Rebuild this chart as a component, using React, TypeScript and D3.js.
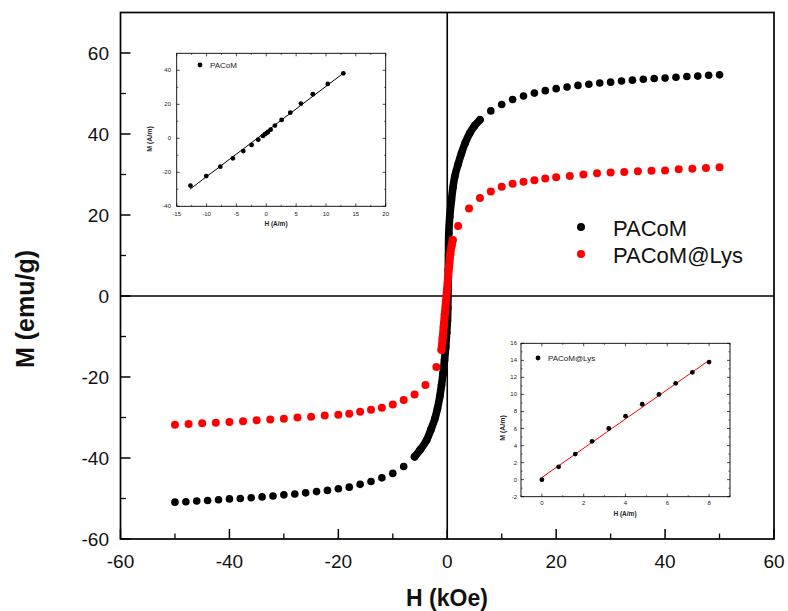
import React from "react";
import * as d3 from "d3";

// ---------- Main chart data (H in kOe, M in emu/g) ----------
const pacomNegH = [-50, -48, -46, -44, -42, -40, -38, -36, -34, -32, -30, -28, -26, -24, -22, -20, -18, -16, -14, -12, -10, -8];
const pacomNegM = [-50.9, -50.8, -50.6, -50.5, -50.3, -50.1, -50.0, -49.8, -49.6, -49.4, -49.1, -48.9, -48.6, -48.3, -48.0, -47.6, -47.2, -46.5, -45.8, -44.9, -43.8, -42.1];
const pacomDenseH = [-6, -5, -3.8, -3, -2.3, -1.8, -1.38, -1.05, -0.77, -0.5, -0.28, -0.1, 0.04, 0.1, 0.13, 0.16, 0.19, 0.23, 0.28, 0.46, 0.77, 1.05, 1.38, 2, 2.6, 3.3, 4.13, 5, 6];
const pacomDenseM = [-39.7, -38, -35.6, -33, -30.4, -27.8, -24.9, -22, -19.1, -15.8, -12.5, -9, -5.9, -3, 0, 3, 6.5, 10, 15.5, 19.6, 23.7, 26.8, 29.5, 32.6, 35.2, 37.8, 40.2, 42, 43.5];
const pacomPosH = [8, 10, 12, 14, 16, 18, 20, 22, 24, 26, 28, 30, 32, 34, 36, 38, 40, 42, 44, 46, 48, 50];
const pacomPosM = [45.7, 47.3, 48.5, 49.4, 50.1, 50.7, 51.2, 51.6, 52.0, 52.3, 52.6, 52.8, 53.1, 53.3, 53.5, 53.7, 53.8, 54.0, 54.2, 54.3, 54.5, 54.6];

const lysNegH = [-50, -47.5, -45, -42.5, -40, -37.5, -35, -32.5, -30, -27.5, -25, -22.5, -20, -18, -16, -14, -12, -10, -8, -6, -4, -2];
const lysNegM = [-31.8, -31.6, -31.4, -31.3, -31.1, -30.9, -30.7, -30.5, -30.3, -30.0, -29.8, -29.5, -29.3, -29.1, -28.6, -28.1, -27.6, -26.8, -25.7, -24.3, -22.0, -17.5];
const lysDenseH = [-1.06, -0.85, -0.65, -0.45, -0.25, -0.05, 0.15, 0.35, 0.55, 0.8, 1.0];
const lysDenseM = [-13.3, -10.5, -7.5, -4.5, -1.5, 1.5, 4.5, 7.5, 10.3, 12.5, 13.8];
const lysPosH = [2, 4, 6, 8, 10, 12, 14, 16, 18, 20, 22.5, 25, 27.5, 30, 32.5, 35, 37.5, 40, 42.5, 45, 47.5, 50];
const lysPosM = [17.3, 21.6, 24.2, 25.8, 27.0, 27.7, 28.2, 28.6, 29.0, 29.3, 29.6, 30.0, 30.3, 30.5, 30.6, 30.8, 30.9, 31.0, 31.3, 31.4, 31.6, 31.8];

const mainXTicks = [-60, -40, -20, 0, 20, 40, 60];
const mainYTicks = [-60, -40, -20, 0, 20, 40, 60];
const mainMinorTicks = [-50, -30, -10, 10, 30, 50];
const legendLabels = ["PACoM", "PACoM@Lys"];

// ---------- Inset 1 (PACoM) ----------
const in1H = [-12.7, -10.05, -7.7, -5.6, -3.85, -2.46, -1.34, -0.56, -0.22, 0.06, 0.28, 0.73, 1.45, 2.57, 4.02, 5.8, 7.8, 10.3, 12.9];
const in1M = [-27.8, -22.2, -16.7, -11.8, -7.5, -3.9, -0.8, 1.4, 2.4, 3.1, 3.7, 5.1, 7.5, 10.8, 15.1, 20.4, 25.9, 32, 38.2];
const in1FitH = [-12.8, 12.8];
const in1FitM = [-30, 38];
const in1XTicks = [-15, -10, -5, 0, 5, 10, 15, 20];
const in1YTicks = [-40, -20, 0, 20, 40];

// ---------- Inset 2 (PACoM@Lys) ----------
const in2H = [0, 0.8, 1.6, 2.4, 3.2, 4, 4.8, 5.6, 6.4, 7.2, 8];
const in2M = [0, 1.5, 3, 4.5, 6, 7.45, 8.85, 10, 11.3, 12.6, 13.8];
const in2FitH = [0, 8];
const in2FitM = [0.25, 14.0];
const in2XTicks = [0, 2, 4, 6, 8];
const in2YTicks = [-2, 0, 2, 4, 6, 8, 10, 12, 14, 16];

const FONT = "'Liberation Sans', Arial, Helvetica, sans-serif";

const zip = (a: number[], b: number[]) => a.map((v, i) => [v, b[i]] as [number, number]);

type InsetProps = {
  xs: d3.ScaleLinear<number, number>;
  ys: d3.ScaleLinear<number, number>;
  xTicks: number[];
  yTicks: number[];
  xMinor: number[];
  yMinor: number[];
  pts: [number, number][];
  fit: [number, number][];
  fitColor: string;
  label: string;
  legendPos: [number, number];
  xLabelY: number;
  yLabelX: number;
  xTitlePos: [number, number];
  yTitlePos: [number, number];
};

function Inset(p: InsetProps) {
  const [x0, x1] = p.xs.range();
  const [y0, y1] = p.ys.range(); // y0 bottom, y1 top
  const line = d3.line<[number, number]>().x((d) => p.xs(d[0])).y((d) => p.ys(d[1]));
  const tk = 3, tkm = 1.6;
  return (
    <g>
      <rect x={x0} y={y1} width={x1 - x0} height={y0 - y1} fill="none" stroke="#000" strokeWidth={0.9} />
      {p.xTicks.map((t) => (
        <g key={"xt" + t}>
          <line x1={p.xs(t)} x2={p.xs(t)} y1={y0} y2={y0 - tk} stroke="#000" strokeWidth={0.7} />
          <line x1={p.xs(t)} x2={p.xs(t)} y1={y1} y2={y1 + tk} stroke="#000" strokeWidth={0.7} />
          <text x={p.xs(t)} y={p.xLabelY} fontSize={6} textAnchor="middle" dominantBaseline="central" fontFamily={FONT} fill="#222">{t}</text>
        </g>
      ))}
      {p.xMinor.map((t) => (
        <g key={"xm" + t}>
          <line x1={p.xs(t)} x2={p.xs(t)} y1={y0} y2={y0 - tkm} stroke="#000" strokeWidth={0.6} />
          <line x1={p.xs(t)} x2={p.xs(t)} y1={y1} y2={y1 + tkm} stroke="#000" strokeWidth={0.6} />
        </g>
      ))}
      {p.yTicks.map((t) => (
        <g key={"yt" + t}>
          <line x1={x0} x2={x0 + tk} y1={p.ys(t)} y2={p.ys(t)} stroke="#000" strokeWidth={0.7} />
          <line x1={x1} x2={x1 - tk} y1={p.ys(t)} y2={p.ys(t)} stroke="#000" strokeWidth={0.7} />
          <text x={p.yLabelX} y={p.ys(t)} fontSize={6} textAnchor="end" dominantBaseline="central" fontFamily={FONT} fill="#222">{t}</text>
        </g>
      ))}
      {p.yMinor.map((t) => (
        <g key={"ym" + t}>
          <line x1={x0} x2={x0 + tkm} y1={p.ys(t)} y2={p.ys(t)} stroke="#000" strokeWidth={0.6} />
          <line x1={x1} x2={x1 - tkm} y1={p.ys(t)} y2={p.ys(t)} stroke="#000" strokeWidth={0.6} />
        </g>
      ))}
      <path d={line(p.fit) || ""} fill="none" stroke={p.fitColor} strokeWidth={1} />
      {p.pts.map((d, i) => (
        <circle key={i} cx={p.xs(d[0])} cy={p.ys(d[1])} r={2.4} fill="#000" />
      ))}
      <circle cx={p.legendPos[0]} cy={p.legendPos[1]} r={2.4} fill="#000" />
      <text x={p.legendPos[0] + 10} y={p.legendPos[1]} fontSize={8} dominantBaseline="central" fontFamily={FONT} fill="#222">{p.label}</text>
      <text x={p.xTitlePos[0]} y={p.xTitlePos[1]} fontSize={6.5} fontWeight="bold" textAnchor="middle" dominantBaseline="central" fontFamily={FONT} fill="#222">H (A/m)</text>
      <text transform={`translate(${p.yTitlePos[0]},${p.yTitlePos[1]}) rotate(-90)`} fontSize={7} fontWeight="bold" textAnchor="middle" dominantBaseline="central" fontFamily={FONT} fill="#222">M (A/m)</text>
    </g>
  );
}

export default function App() {
  const x = d3.scaleLinear().domain([-60, 60]).range([120.5, 774]);
  const y = d3.scaleLinear().domain([-60, 70]).range([539, 12.5]);
  const left = 120.5, right = 774, top = 12.5, bottom = 539;

  const denseLine = d3
    .line<[number, number]>()
    .x((d) => x(d[0]))
    .y((d) => y(d[1]))
    .curve(d3.curveCatmullRom);

  const pacomSparse = [...zip(pacomNegH, pacomNegM), ...zip(pacomPosH, pacomPosM)];
  const pacomDense = zip(pacomDenseH, pacomDenseM);
  const lysSparse = [...zip(lysNegH, lysNegM), ...zip(lysPosH, lysPosM)];
  const lysDense = zip(lysDenseH, lysDenseM);

  const x1 = d3.scaleLinear().domain([-15, 20]).range([176.7, 385.7]);
  const y1 = d3.scaleLinear().domain([-40, 50]).range([206.3, 53.3]);
  const x2 = d3.scaleLinear().domain([-1, 9]).range([521, 730]);
  const y2 = d3.scaleLinear().domain([-2, 16]).range([496.7, 343.3]);

  const r = 3.8;
  const rRed = 4.0;

  return (
    <svg width={788} height={611} style={{ position: "absolute", left: 0, top: 0, background: "#fff" }}>
      <rect x={0} y={0} width={788} height={611} fill="#fff" />
      {/* frame */}
      <rect x={left} y={top} width={right - left} height={bottom - top} fill="none" stroke="#000" strokeWidth={1.7} />
      {/* zero lines */}
      <line x1={x(0)} x2={x(0)} y1={top} y2={bottom} stroke="#000" strokeWidth={1.6} />
      <line x1={left} x2={right} y1={y(0)} y2={y(0)} stroke="#000" strokeWidth={1.6} />

      {/* ticks */}
      {mainXTicks.map((t) => (
        <g key={"mx" + t}>
          <line x1={x(t)} x2={x(t)} y1={bottom} y2={bottom - 10} stroke="#000" strokeWidth={1.5} />
          <text x={x(t)} y={568} fontSize={19} textAnchor="middle" fontFamily={FONT} fill="#111">{t}</text>
        </g>
      ))}
      {mainYTicks.map((t) => (
        <g key={"my" + t}>
          <line x1={left} x2={left + 10} y1={y(t)} y2={y(t)} stroke="#000" strokeWidth={1.5} />
          <text x={109} y={y(t)} fontSize={19} textAnchor="end" dominantBaseline="central" fontFamily={FONT} fill="#111">{t}</text>
        </g>
      ))}
      {mainMinorTicks.map((t) => (
        <g key={"mm" + t}>
          <line x1={x(t)} x2={x(t)} y1={bottom} y2={bottom - 5.5} stroke="#000" strokeWidth={1.3} />
          <line x1={left} x2={left + 5.5} y1={y(t)} y2={y(t)} stroke="#000" strokeWidth={1.3} />
        </g>
      ))}

      {/* axis titles */}
      <text x={447} y={606} fontSize={23} fontWeight="bold" textAnchor="middle" fontFamily={FONT} fill="#111">H (kOe)</text>
      <text transform="translate(34,309) rotate(-90)" fontSize={25} fontWeight="bold" textAnchor="middle" fontFamily={FONT} fill="#111">M (emu/g)</text>

      {/* PACoM series */}
      <path d={denseLine(pacomDense) || ""} fill="none" stroke="#000" strokeWidth={2 * r} strokeLinecap="round" strokeLinejoin="round" />
      {[...pacomSparse, ...pacomDense].map((d, i) => (
        <circle key={"p" + i} cx={x(d[0])} cy={y(d[1])} r={r} fill="#000" />
      ))}

      {/* PACoM@Lys series */}
      <path d={denseLine(lysDense) || ""} fill="none" stroke="#ff0000" strokeWidth={2 * rRed} strokeLinecap="round" strokeLinejoin="round" />
      {[...lysSparse, ...lysDense].map((d, i) => (
        <circle key={"l" + i} cx={x(d[0])} cy={y(d[1])} r={rRed} fill="#ff0000" />
      ))}

      {/* legend */}
      <circle cx={581} cy={227} r={4} fill="#000" />
      <text x={613} y={228} fontSize={22} dominantBaseline="central" fontFamily={FONT} fill="#111">{legendLabels[0]}</text>
      <circle cx={581} cy={254} r={4} fill="#ff0000" />
      <text x={613} y={255} fontSize={22} dominantBaseline="central" fontFamily={FONT} fill="#111">{legendLabels[1]}</text>

      {/* inset 1 */}
      <Inset
        xs={x1}
        ys={y1}
        xTicks={in1XTicks}
        yTicks={in1YTicks}
        xMinor={[-12.5, -7.5, -2.5, 2.5, 7.5, 12.5, 17.5]}
        yMinor={[-30, -10, 10, 30]}
        pts={zip(in1H, in1M)}
        fit={zip(in1FitH, in1FitM)}
        fitColor="#000"
        label="PACoM"
        legendPos={[200, 65]}
        xLabelY={214}
        yLabelX={171}
        xTitlePos={[276, 223]}
        yTitlePos={[149, 139]}
      />
      {/* inset 2 */}
      <Inset
        xs={x2}
        ys={y2}
        xTicks={in2XTicks}
        yTicks={in2YTicks}
        xMinor={[-1, 1, 3, 5, 7, 9]}
        yMinor={[-1, 1, 3, 5, 7, 9, 11, 13, 15]}
        pts={zip(in2H, in2M)}
        fit={zip(in2FitH, in2FitM)}
        fitColor="#ff0000"
        label="PACoM@Lys"
        legendPos={[538, 358]}
        xLabelY={503}
        yLabelX={517}
        xTitlePos={[625, 513]}
        yTitlePos={[502, 428]}
      />
    </svg>
  );
}
